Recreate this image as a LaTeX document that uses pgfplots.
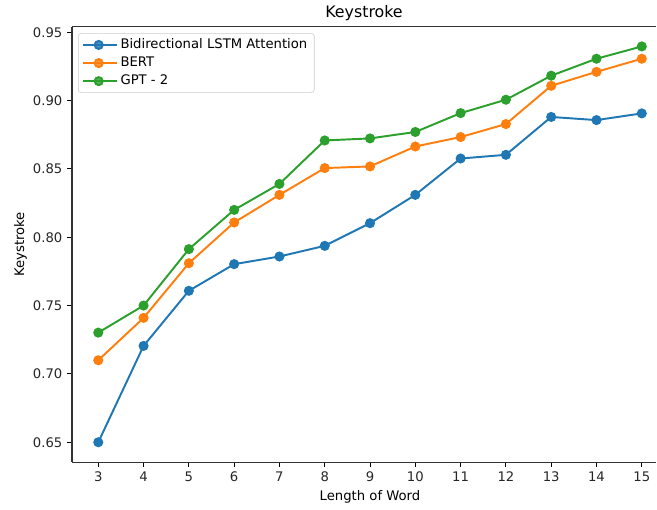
\documentclass[border=0pt]{standalone}
\usepackage{pgfplots}
\pgfplotsset{compat=1.18}
\usepackage{fontspec}
\setmainfont{DejaVu Sans}
\newcommand{\fs}{\fontsize{9.5}{11.4}\selectfont}
\newcommand{\fst}{\fontsize{11.4}{13.7}\selectfont}
\definecolor{tabblue}{HTML}{1F77B4}
\definecolor{taborange}{HTML}{FF7F0E}
\definecolor{tabgreen}{HTML}{2CA02C}
\begin{document}
\begin{tikzpicture}[font=\fs]
\begin{axis}[
  scale only axis,
  width=420.5pt, height=313.4pt,
  xmin=2.42, xmax=15.316,
  ymin=0.6355, ymax=0.954,
  axis y line*=left,
  axis x line*=box,
  xtick={3,...,15},
  ytick={0.65,0.70,0.75,0.80,0.85,0.90,0.95},
  yticklabel style={/pgf/number format/.cd, fixed, fixed zerofill, precision=2},
  /pgf/number format/assume math mode=true,
  tick align=outside,
  xtick pos=lower, ytick pos=left,
  major tick length=3.4pt,
  every tick/.style={black, line width=0.75pt},
  axis line style={line width=0.75pt, black!80},
  tick label style={font=\fs, text=black!85},
  label style={font=\fs},
  title={Keystroke},
  every axis title/.style={at={(axis description cs:0.5,1)}, anchor=base, yshift=6.3pt, font=\fst},
  xlabel={Length of Word},
  ylabel={Keystroke},
  every axis x label/.style={at={(axis description cs:0.5102,0)}, anchor=north, yshift=-17pt},
  every axis y label/.style={at={(axis description cs:0,0.5)}, rotate=90, anchor=south, yshift=29pt},
  legend style={at={(axis description cs:0.0103,0.9855)}, anchor=north west,
    font=\fs, draw=black!20, rounded corners=2pt, fill=white, fill opacity=0.8, text opacity=1,
    inner xsep=3pt, inner ysep=2pt, row sep=0.5pt, cells={anchor=west}},
  legend image code/.code={\path (0pt,0pt) -- (24pt,0pt);\draw[mark repeat=2,mark phase=2] plot coordinates {(0pt,0pt) (11pt,0pt) (22pt,0pt)};},
  every axis plot/.append style={line width=1.4pt, mark=*, mark size=2.9pt},
]
\addplot[color=tabblue, mark options={fill=tabblue, draw=tabblue}] coordinates {
(3,0.650) (4,0.7205) (5,0.7608) (6,0.7803) (7,0.7859) (8,0.7937) (9,0.8103) (10,0.831) (11,0.8576) (12,0.8603) (13,0.888) (14,0.8857) (15,0.8906)};
\addlegendentry{Bidirectional LSTM Attention}
\addplot[color=taborange, mark options={fill=taborange, draw=taborange}] coordinates {
(3,0.710) (4,0.741) (5,0.781) (6,0.8108) (7,0.831) (8,0.8506) (9,0.8518) (10,0.8664) (11,0.8733) (12,0.8828) (13,0.9108) (14,0.921) (15,0.9306)};
\addlegendentry{BERT}
\addplot[color=tabgreen, mark options={fill=tabgreen, draw=tabgreen}] coordinates {
(3,0.7302) (4,0.750) (5,0.7913) (6,0.820) (7,0.839) (8,0.8708) (9,0.8723) (10,0.877) (11,0.8908) (12,0.9006) (13,0.9182) (14,0.9306) (15,0.9396)};
\addlegendentry{GPT - 2}
\coordinate (O) at (rel axis cs:0,0);
\end{axis}
\pgfresetboundingbox
\useasboundingbox (O) ++(-51.84pt,-33.84pt) rectangle ++(473pt,366.5pt);
\end{tikzpicture}
\end{document}
